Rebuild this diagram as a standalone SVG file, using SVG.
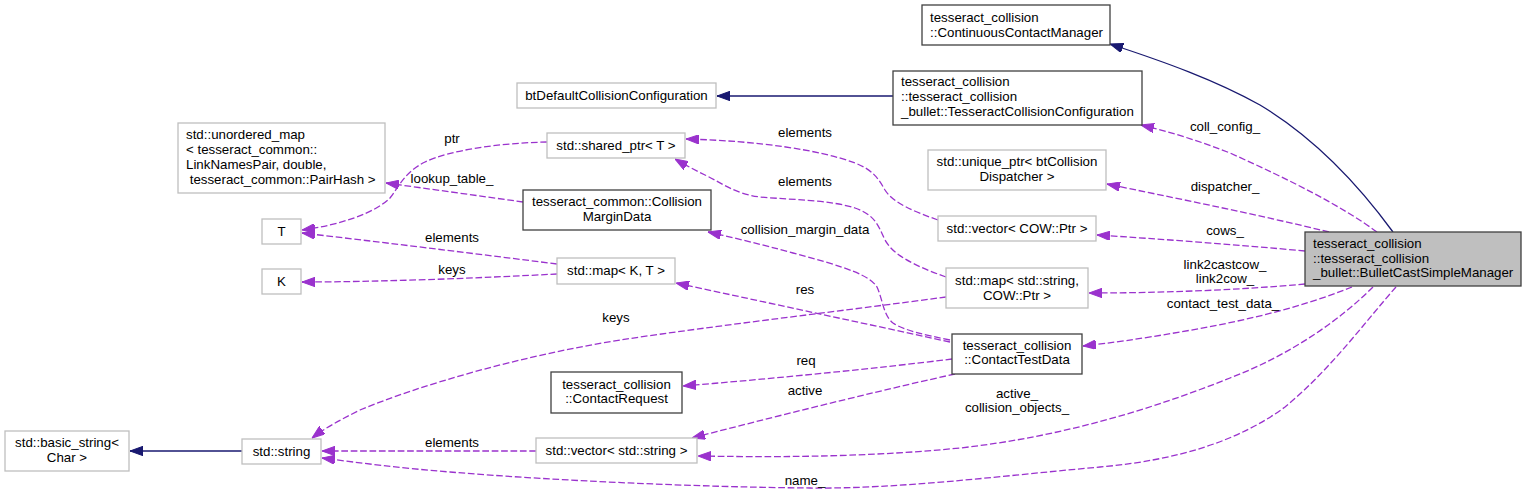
<svg xmlns="http://www.w3.org/2000/svg" width="1525" height="496" viewBox="0 0 1525 496">
<style>
  text { font-family: "Liberation Sans", Arial, sans-serif; font-size: 13.3px; fill: #000; }
  .c { text-anchor: middle; }
  .box { fill: #fff; stroke: #bfbfbf; stroke-width: 1.3; }
  .doc { fill: #fff; stroke: #404040; stroke-width: 1.3; }
  .main { fill: #bfbfbf; stroke: #404040; stroke-width: 1.3; }
  .inh { fill: none; stroke: #191970; stroke-width: 1.3; marker-end: url(#ah-navy); }
  .use { fill: none; stroke: #9a32cd; stroke-width: 1.3; stroke-dasharray: 6.7,2.7; marker-end: url(#ah-purple); }
</style>
<defs>
  <marker id="ah-navy" markerUnits="userSpaceOnUse" viewBox="0 0 13 9.4" refX="13" refY="4.7" markerWidth="13" markerHeight="9.4" orient="auto">
    <path d="M0,0 L13,4.7 L0,9.4 z" fill="#191970" stroke="#191970" stroke-width="1"/>
  </marker>
  <marker id="ah-purple" markerUnits="userSpaceOnUse" viewBox="0 0 13 9.4" refX="13" refY="4.7" markerWidth="13" markerHeight="9.4" orient="auto">
    <path d="M0,0 L13,4.7 L0,9.4 z" fill="#9a32cd" stroke="#9a32cd" stroke-width="1"/>
  </marker>
</defs>
<rect width="1525" height="496" fill="#fff"/>

<g id="connectors">
  <path class="inh" d="M1393,232 C1355,180 1310,135 1260,105 C1215,80 1165,62 1110,44"/>
  <path class="inh" d="M893,96 L717,96"/>
  <path class="inh" d="M242,451 L130,451"/>

  <path class="use" d="M1377,232 C1340,205 1290,180 1230,153 C1200,141 1170,132 1141,125"/>
  <path class="use" d="M1329,232 C1260,215 1170,197 1107,184"/>
  <path class="use" d="M1305,251 C1240,245 1160,239 1097,235"/>
  <path class="use" d="M1305,284 C1240,290 1160,293 1089,293"/>
  <path class="use" d="M1352,287 C1300,308 1240,322 1180,332 C1140,339 1110,343 1083,346"/>
  <path class="use" d="M1373,287 C1340,320 1290,355 1230,378 C1150,410 1060,437 960,448 C860,458 760,457 698,456"/>
  <path class="use" d="M1396,287 C1365,322 1330,370 1285,407 C1240,440 1180,460 1100,467 C1000,476 900,489 810,488 C700,487 560,481 450,472 C400,468 360,463 322,458"/>

  <path class="use" d="M938,220 C915,212 893,203 885,190 C878,178 873,170 855,163 C820,150 760,141 686,139"/>
  <path class="use" d="M946,277 C915,266 893,255 885,240 C878,225 875,215 855,208 C830,200 795,200 760,197 C735,194 722,183 705,175 C695,170 685,165 675,159"/>
  <path class="use" d="M523,202 C480,196 430,189 386,183"/>
  <path class="use" d="M547,142 C500,143 450,150 425,162 C405,172 400,185 390,198 C375,213 340,225 302,230"/>
  <path class="use" d="M557,264 C470,253 380,242 302,233"/>
  <path class="use" d="M557,274 C480,278 380,282 302,282"/>
  <path class="use" d="M950,342 L676,283"/>
  <path class="use" d="M950,340 C925,335 903,330 893,323 C883,315 883,300 877,287 C870,276 850,268 793,253 C760,244 735,238 708,232"/>
  <path class="use" d="M946,297 C850,310 720,325 620,340 C520,356 420,385 360,410 C340,420 325,428 312,438"/>
  <path class="use" d="M952,359 C880,368 780,378 683,386"/>
  <path class="use" d="M955,374 C900,386 800,410 692,438"/>
  <path class="use" d="M536,451 L322,451"/>

  <g id="edge-labels">
    <text class="c" x="1225" y="131">coll_config_</text>
    <text class="c" x="1225" y="191">dispatcher_</text>
    <text class="c" x="1225" y="235">cows_</text>
    <text class="c" x="1225" y="269">link2castcow_</text>
    <text class="c" x="1225" y="283">link2cow_</text>
    <text class="c" x="1223" y="308">contact_test_data_</text>
    <text class="c" x="1017" y="398">active_</text>
    <text class="c" x="1017" y="412">collision_objects_</text>
    <text class="c" x="805" y="485">name_</text>
    <text class="c" x="805" y="137">elements</text>
    <text class="c" x="805" y="186">elements</text>
    <text class="c" x="805" y="234">collision_margin_data</text>
    <text class="c" x="805" y="294">res</text>
    <text class="c" x="616" y="322">keys</text>
    <text class="c" x="806" y="365">req</text>
    <text class="c" x="805" y="395">active</text>
    <text class="c" x="452" y="447">elements</text>
    <text class="c" x="452" y="143">ptr</text>
    <text class="c" x="452" y="183">lookup_table_</text>
    <text class="c" x="452" y="242">elements</text>
    <text class="c" x="452" y="274">keys</text>
  </g>
</g>

<g id="node-main">
  <rect class="main" x="1305" y="232" width="216" height="54"/>
  <text x="1313" y="248">tesseract_collision</text>
  <text x="1313" y="263">::tesseract_collision</text>
  <text x="1313" y="277">_bullet::BulletCastSimpleManager</text>
</g>
<g id="node-ccm">
  <rect class="doc" x="922" y="5" width="188" height="40"/>
  <text x="930" y="22">tesseract_collision</text>
  <text x="930" y="37">::ContinuousContactManager</text>
</g>
<g id="node-btdefault">
  <rect class="box" x="517" y="83" width="199" height="25"/>
  <text class="c" x="616.5" y="100">btDefaultCollisionConfiguration</text>
</g>
<g id="node-tcc">
  <rect class="doc" x="893" y="71" width="249" height="54"/>
  <text x="901" y="86">tesseract_collision</text>
  <text x="901" y="101">::tesseract_collision</text>
  <text x="901" y="116">_bullet::TesseractCollisionConfiguration</text>
</g>
<g id="node-unique">
  <rect class="box" x="928" y="150" width="178" height="40"/>
  <text class="c" x="1017" y="166">std::unique_ptr&lt; btCollision</text>
  <text class="c" x="1017" y="181">Dispatcher &gt;</text>
</g>
<g id="node-vectorcow">
  <rect class="box" x="938" y="216" width="158" height="25"/>
  <text class="c" x="1017" y="233">std::vector&lt; COW::Ptr &gt;</text>
</g>
<g id="node-mapcow">
  <rect class="box" x="946" y="268" width="142" height="40"/>
  <text class="c" x="1017" y="285">std::map&lt; std::string,</text>
  <text class="c" x="1017" y="299.5">COW::Ptr &gt;</text>
</g>
<g id="node-ctd">
  <rect class="doc" x="952" y="334" width="130" height="40"/>
  <text class="c" x="1017" y="350">tesseract_collision</text>
  <text class="c" x="1017" y="364">::ContactTestData</text>
</g>
<g id="node-unordered">
  <rect class="box" x="178" y="123" width="207" height="70"/>
  <text x="186" y="139">std::unordered_map</text>
  <text x="186" y="154">&lt; tesseract_common::</text>
  <text x="186" y="169">LinkNamesPair, double,</text>
  <text x="186" y="183.5" xml:space="preserve"> tesseract_common::PairHash &gt;</text>
</g>
<g id="node-sharedptr">
  <rect class="box" x="547" y="133" width="138" height="25"/>
  <text class="c" x="616" y="150">std::shared_ptr&lt; T &gt;</text>
</g>
<g id="node-margin">
  <rect class="doc" x="523" y="190" width="188" height="40"/>
  <text class="c" x="617" y="206">tesseract_common::Collision</text>
  <text class="c" x="617" y="221">MarginData</text>
</g>
<g id="node-T">
  <rect class="box" x="262" y="219" width="39" height="25"/>
  <text class="c" x="281.5" y="236">T</text>
</g>
<g id="node-K">
  <rect class="box" x="262" y="269" width="39" height="25"/>
  <text class="c" x="281.5" y="286">K</text>
</g>
<g id="node-mapkt">
  <rect class="box" x="557" y="258" width="118" height="26"/>
  <text class="c" x="616" y="275">std::map&lt; K, T &gt;</text>
</g>
<g id="node-request">
  <rect class="doc" x="551" y="372" width="131" height="41"/>
  <text class="c" x="616.5" y="388.5">tesseract_collision</text>
  <text class="c" x="616.5" y="403">::ContactRequest</text>
</g>
<g id="node-vectorstr">
  <rect class="box" x="536" y="438" width="161" height="25"/>
  <text class="c" x="616.5" y="455">std::vector&lt; std::string &gt;</text>
</g>
<g id="node-string">
  <rect class="box" x="242" y="439" width="79" height="25"/>
  <text class="c" x="281.5" y="456">std::string</text>
</g>
<g id="node-basicstring">
  <rect class="box" x="5" y="431" width="124" height="40"/>
  <text class="c" x="67" y="447">std::basic_string&lt;</text>
  <text class="c" x="67" y="462">Char &gt;</text>
</g>
</svg>
